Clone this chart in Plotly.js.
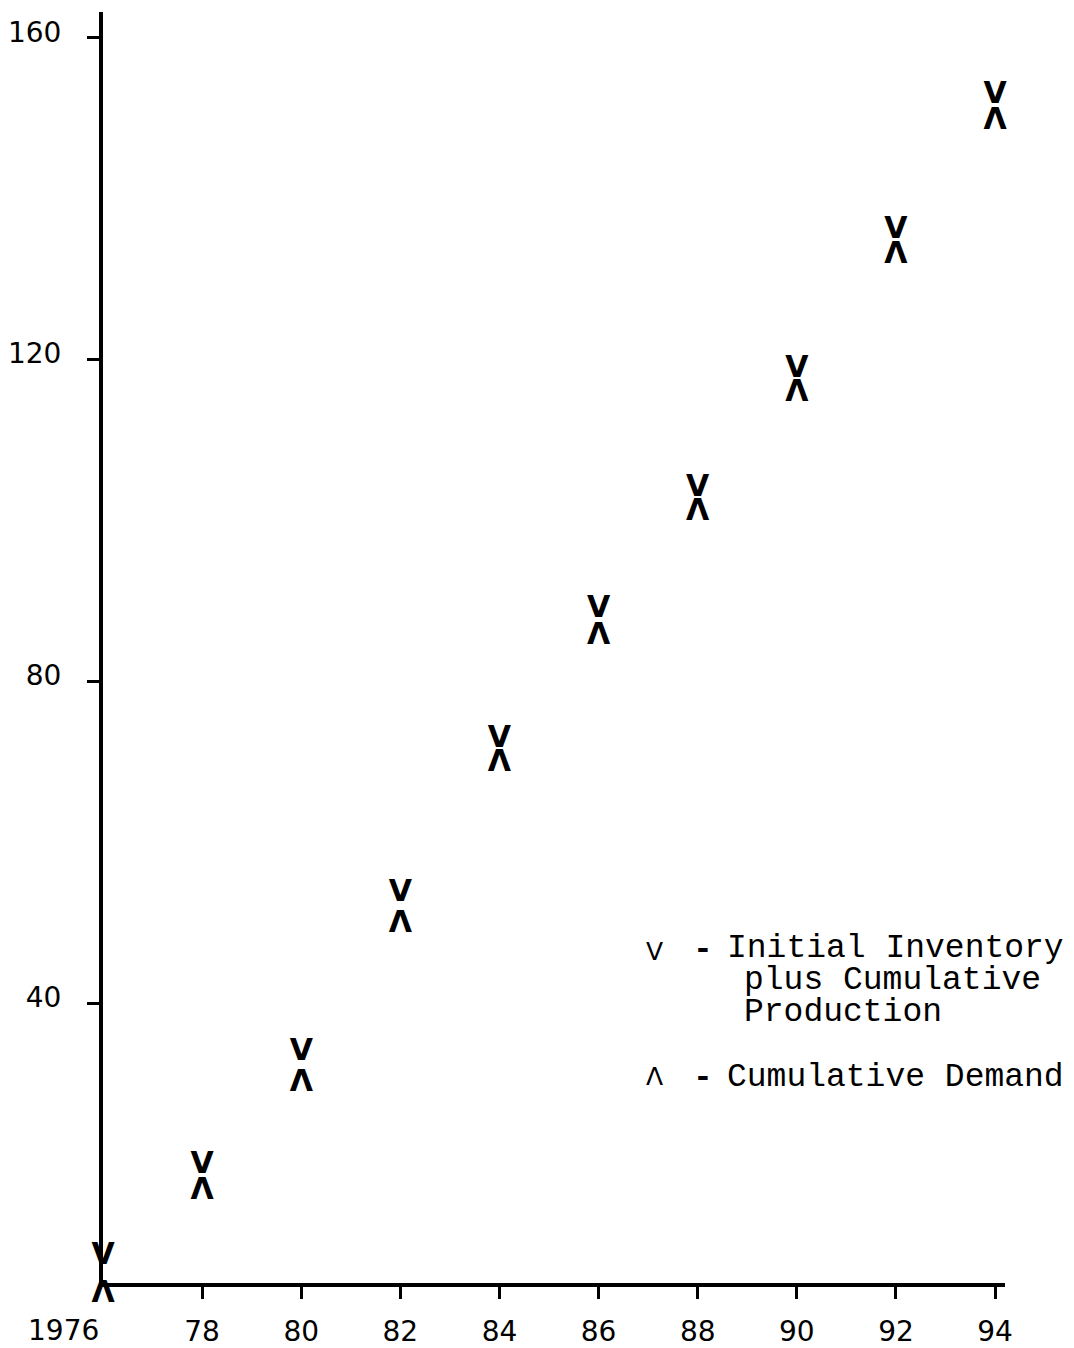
<!DOCTYPE html>
<html><head><meta charset="utf-8">
<script src="https://cdn.plot.ly/plotly-3.0.1.min.js"></script>
<style>html,body{margin:0;padding:0;background:#fff}</style>
</head><body><div id="chart" style="width:1074px;height:1348px"></div>
<script>
// Data (values in the chart's own units)
const years = [1976, 1978, 1980, 1982, 1984, 1986, 1988, 1990, 1992, 1994];
const inventoryPlusProduction = [7.5, 18.8, 32.9, 52.6, 71.8, 87.9, 103.0, 117.8, 135.0, 151.8];
const cumulativeDemand = [5.6, 18.5, 31.9, 51.6, 71.6, 87.4, 102.8, 117.6, 134.8, 151.5];

const xTickVals = [1978, 1980, 1982, 1984, 1986, 1988, 1990, 1992, 1994];
const xTickText = ['78', '80', '82', '84', '86', '88', '90', '92', '94'];
const firstYearLabel = '1976';
const yTickVals = [40, 80, 120, 160];

const supplySymbol = 'V';
const demandSymbol = 'Λ';
const supplyLegendLines = ['Initial Inventory', 'plus Cumulative', 'Production'];
const demandLegendLines = ['Cumulative Demand'];

const tickFont = {family: 'DejaVu Sans', size: 28, color: '#000'};
const typeFont = {family: 'Liberation Mono', size: 33, color: '#000'};
const markFont = {family: 'DejaVu Sans', size: 30, color: '#000', weight: 'bold'};

const traces = [
  {
    type: 'scatter', mode: 'text', x: years, y: inventoryPlusProduction,
    // vertex of the V sits on the value
    text: years.map(() => '<span style="baseline-shift:-7px">' + supplySymbol + '</span>'),
    textposition: 'top center', textfont: markFont,
    cliponaxis: false, hoverinfo: 'skip', showlegend: false
  },
  {
    type: 'scatter', mode: 'text', x: years, y: cumulativeDemand,
    text: years.map(() => demandSymbol), textposition: 'bottom center',
    textfont: markFont, cliponaxis: false, hoverinfo: 'skip', showlegend: false
  }
];

// Legend drawn as typed notes (pixel layout converted to paper fractions)
const L = 103, T = 12, W = 902, H = 1271;
const px = v => (v - L) / W;
const py = v => (T + H - v) / H;
const legendSymFont = {family: 'DejaVu Sans', size: 25, color: '#000'};
const dashFont = Object.assign({}, typeFont, {weight: 'bold'});
const annotations = [
  {xref: 'x', yref: 'paper', x: 1976, y: 0, xanchor: 'right', yanchor: 'top', xshift: -2, yshift: -29,
   text: firstYearLabel, showarrow: false, font: tickFont},
  {xref: 'paper', yref: 'paper', x: px(654), y: py(952), xanchor: 'center', yanchor: 'middle',
   text: supplySymbol, showarrow: false, font: legendSymFont},
  {xref: 'paper', yref: 'paper', x: px(654), y: py(1076), xanchor: 'center', yanchor: 'middle',
   text: demandSymbol, showarrow: false, font: legendSymFont},
  {xref: 'paper', yref: 'paper', x: px(703), y: py(950), xanchor: 'center', yanchor: 'middle',
   text: '-', showarrow: false, font: dashFont},
  {xref: 'paper', yref: 'paper', x: px(703), y: py(1078), xanchor: 'center', yanchor: 'middle',
   text: '-', showarrow: false, font: dashFont}
];
const supplyLineY = [948, 980, 1012];
const supplyLineX = [725, 742, 742];
supplyLegendLines.forEach((t, i) => annotations.push({
  xref: 'paper', yref: 'paper', x: px(supplyLineX[i]), y: py(supplyLineY[i]), xanchor: 'left', yanchor: 'middle',
  text: t, showarrow: false, font: typeFont
}));
demandLegendLines.forEach((t, i) => annotations.push({
  xref: 'paper', yref: 'paper', x: px(725), y: py(1077), xanchor: 'left', yanchor: 'middle',
  text: t, showarrow: false, font: typeFont
}));

const layout = {
  width: 1074, height: 1348,
  margin: {l: L, r: 1074 - L - W, t: T, b: 1348 - T - H, pad: 0},
  paper_bgcolor: '#fff', plot_bgcolor: '#fff',
  showlegend: false,
  xaxis: {
    range: [1976, 1994.2], tickmode: 'array', tickvals: xTickVals, ticktext: xTickText,
    showline: true, linecolor: '#000', linewidth: 4, ticks: 'outside', ticklen: 12, tickwidth: 3,
    tickcolor: '#000', showgrid: false, zeroline: false, tickfont: tickFont, ticklabelstandoff: 8
  },
  yaxis: {
    range: [5.2, 163.2], tickmode: 'array', tickvals: yTickVals,
    showline: true, linecolor: '#000', linewidth: 4, ticks: 'outside', ticklen: 12, tickwidth: 3,
    tickcolor: '#000', showgrid: false, zeroline: false, tickfont: tickFont, ticklabelstandoff: 20,
    ticklabelshift: -6
  },
  annotations: annotations
};

Plotly.newPlot('chart', traces, layout, {staticPlot: true, displayModeBar: false});
</script></body></html>
